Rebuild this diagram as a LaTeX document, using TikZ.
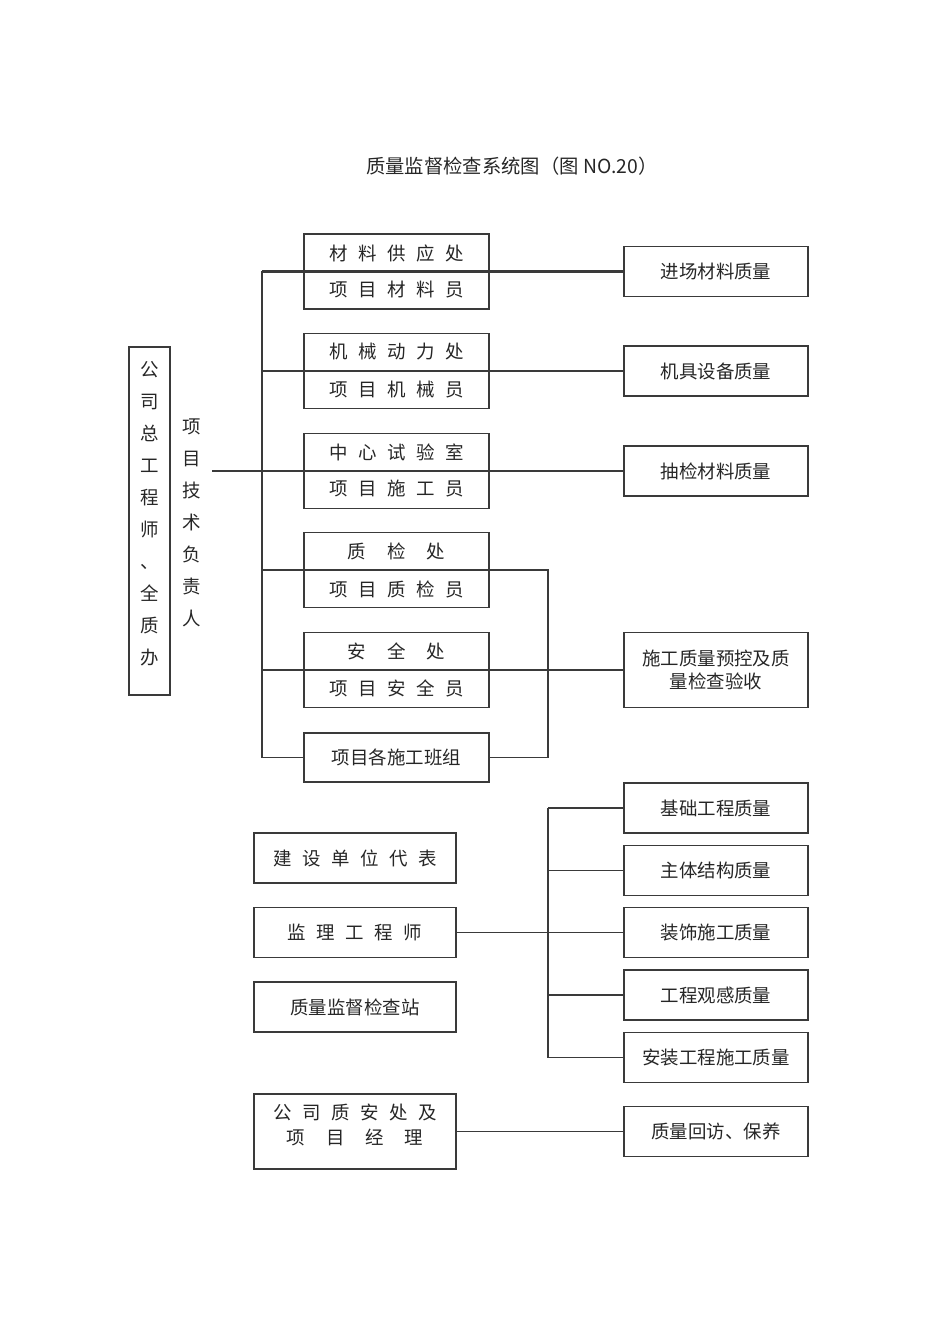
\documentclass[tikz,border=0pt]{standalone}
\usepackage{fontspec}
\setmainfont{Noto Sans CJK SC}
\usepackage{xcolor}
\usepackage{tikz}
\usetikzlibrary{positioning}
\definecolor{ink}{HTML}{262626}
\definecolor{rule}{HTML}{3A3A3A}
\newcommand\cnfont[1]{\fontsize{10.5}{#1}\selectfont\spaceskip=0.57em\relax}
\tikzset{
  every node/.style={font=\cnfont{13},text=ink},
  unit/.style={draw=rule,line width=0.75pt,minimum width=3.7cm,minimum height=1.5cm,inner sep=0pt},
  goal/.style={draw=rule,line width=0.75pt,minimum width=3.68cm,minimum height=1cm,inner sep=0pt,align=center},
  party/.style={draw=rule,line width=0.75pt,minimum width=4.04cm,minimum height=1cm,inner sep=0pt,align=center},
  col/.style={align=center,font=\cnfont{18.2}},
  link/.style={draw=rule,line width=0.75pt},
}

\begin{document}
\begin{tikzpicture}[x=0.02cm,y=-0.02cm]
  \useasboundingbox (0,0) rectangle (950,1344);
  \node[font=\fontsize{11}{13}\selectfont] (title) at (512,166) {质量监督检查系统图（图 NO.20）};

  \node[draw=rule,line width=0.75pt,minimum width=0.82cm,minimum height=6.96cm,inner sep=0pt] (chief) at (149.5,521) {};
  \node[col] (chiefa) at (149.5,514) {公\\司\\总\\工\\程\\师\\、\\全\\质\\办};
  \node[col,inner xsep=6pt] (lead) at (192,523) {项\\目\\技\\术\\负\\责\\人};

  \node[unit] (u1) at (396.5,271.5) {};
  \node (u1a) at (396.5,253) {材 料 供 应 处};
  \node (u1b) at (396.5,290) {项 目 材 料 员};
  \node[unit] (u2) at (396.5,371) {};
  \node (u2a) at (396.5,352) {机 械 动 力 处};
  \node (u2b) at (396.5,390) {项 目 机 械 员};
  \node[unit] (u3) at (396.5,471) {};
  \node (u3a) at (396.5,452) {中 心 试 验 室};
  \node (u3b) at (396.5,489) {项 目 施 工 员};
  \node[unit] (u4) at (396.5,570) {};
  \node (u4a) at (396.5,551) {质~~检~~处};
  \node (u4b) at (396.5,589) {项 目 质 检 员};
  \node[unit] (u5) at (396.5,670) {};
  \node (u5a) at (396.5,651) {安~~全~~处};
  \node (u5b) at (396.5,688) {项 目 安 全 员};
  \node[unit,minimum height=0.98cm] (u6) at (396.5,757.5) {项目各施工班组};

  \node[goal] (g1) at (716,271.5) {进场材料质量};
  \node[goal] (g2) at (716,371) {机具设备质量};
  \node[goal] (g3) at (716,471) {抽检材料质量};
  \node[goal,minimum height=1.5cm,font=\cnfont{13.6}] (g4) at (716,670) {施工质量预控及质\\量检查验收};

  \coordinate (busL) at (262,0);
  \coordinate (busR) at (548,0);
  \draw[link] (busL |- u1) -- (busL |- u6);
  \draw[link,line width=1.3pt] (busL |- u1) -- (g1.west);
  \draw[link] (busL |- u2) -- (g2.west);
  \draw[link] (lead.east |- u3) -- (g3.west);
  \draw[link] (busL |- u4) -- (busR |- u4) -- (busR |- u6) -- (u6.east);
  \draw[link] (busL |- u5) -- (g4.west);
  \draw[link] (busL |- u6) -- (u6.west);

  \node[goal] (q1) at (716,808) {基础工程质量};
  \node[goal] (q2) at (716,870.5) {主体结构质量};
  \node[goal] (q3) at (716,932.5) {装饰施工质量};
  \node[goal] (q4) at (716,995) {工程观感质量};
  \node[goal] (q5) at (716,1057.5) {安装工程施工质量};

  \node[party] (p1) at (355,858) {建 设 单 位 代 表};
  \node[party] (p2) at (355,932.5) {监 理 工 程 师};
  \node[party] (p3) at (355,1007) {质量监督检查站};
  \node[party,minimum height=1.5cm] (p4) at (355,1131.5) {};
  \node[align=center,font=\cnfont{14.2}] (p4t) at (355,1124.5) {公 司 质 安 处 及\\项~~目~~经~~理};
  \node[goal] (visit) at (716,1131.5) {质量回访、保养};

  \draw[link] (busR |- q1) -- (busR |- q5);
  \draw[link] (busR |- q1) -- (q1.west);
  \draw[link] (busR |- q2) -- (q2.west);
  \draw[link] (p2.east) -- (q3.west);
  \draw[link] (busR |- q4) -- (q4.west);
  \draw[link] (busR |- q5) -- (q5.west);
  \draw[link] (p4.east) -- (visit.west);
\end{tikzpicture}
\end{document}
